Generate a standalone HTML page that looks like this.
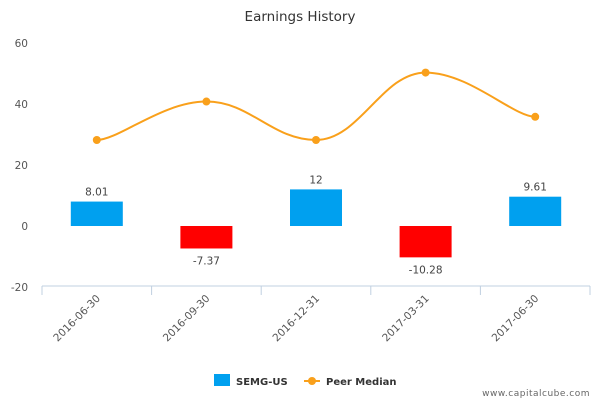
<!DOCTYPE html>
<html><head><meta charset="utf-8"><style>
body{margin:0;background:#fff;font-family:"Liberation Sans","DejaVu Sans",sans-serif}
svg text{font-family:"DejaVu Sans","Liberation Sans",sans-serif}
</style></head><body>
<svg id="c" width="600" height="400">
<text x="300" y="21" text-anchor="middle" font-size="13.5" fill="#333">Earnings History</text>
<g id="yax"></g>
<g id="xax"></g>
<g id="bars"></g>
<g id="line"></g>
<g>
<g><rect x="214" y="374" width="16" height="12" fill="#00a0ef"/><text x="236" y="385" font-size="10" font-weight="bold" fill="#333">SEMG-US</text></g>
<g><line x1="304" y1="381" x2="320" y2="381" stroke="#f9a01b" stroke-width="2"/><circle cx="312" cy="381" r="4" fill="#f9a01b"/><text x="326" y="385" font-size="10" font-weight="bold" fill="#333">Peer Median</text></g>
</g>
<text x="590" y="396" text-anchor="end" font-size="9" fill="#666" letter-spacing="0.5">www.capitalcube.com</text>
</svg>
<script>
const categories=["2016-06-30","2016-09-30","2016-12-31","2017-03-31","2017-06-30"];
const semgValues=[8.01,-7.37,12,-10.28,9.61];
const peerMedian=[28.2,40.8,28.2,50.3,35.8];
const yTicks=[-20,0,20,40,60];
const NS="http://www.w3.org/2000/svg";
const L=42,R=590,T=43,B=287,yMin=-20,yMax=60;
const y=v=>T+(yMax-v)/(yMax-yMin)*(B-T);
const bw=(R-L)/categories.length;
const xc=i=>L+bw*(i+0.5);
function mk(tag,a,p){const e=document.createElementNS(NS,tag);for(const k in a)e.setAttribute(k,a[k]);p.appendChild(e);return e;}
const yax=document.getElementById('yax');
yTicks.forEach(t=>{const e=mk('text',{x:28,y:y(t)+4,'text-anchor':'end','font-size':'10.5',fill:'#555'},yax);e.textContent=t;

});
const xax=document.getElementById('xax');
mk('line',{x1:L,y1:B-1,x2:R,y2:B-1,stroke:'#c0d0e0'},xax);
for(let i=0;i<=categories.length;i++)mk('line',{x1:L+bw*i,y1:B-1,x2:L+bw*i,y2:B+8,stroke:'#c0d0e0'},xax);
categories.forEach((c,i)=>{const x=xc(i)+4,yy=B+12;const e=mk('text',{x:x,y:yy,'text-anchor':'end','font-size':'10.5',fill:'#555',transform:`rotate(-45 ${x} ${yy})`},xax);e.textContent=c;

});
const bars=document.getElementById('bars');
semgValues.forEach((v,i)=>{const w=52,y0=y(0),yv=y(v);
const r=mk('rect',{x:xc(i)-w/2,y:Math.min(y0,yv),width:w,height:Math.abs(y0-yv),fill:v>=0?'#00a0ef':'#ff0000'},bars);


const t=mk('text',{x:xc(i),y:v>=0?yv-6:yv+16,'text-anchor':'middle','font-size':'10.5',fill:'#444'},bars);t.textContent=v;

});
const line=document.getElementById('line');
const pts=peerMedian.map((v,i)=>[xc(i),y(v)]);
let d=`M${pts[0][0]},${pts[0][1]}`;
for(let i=0;i<pts.length-1;i++){const p0=pts[Math.max(i-1,0)],p1=pts[i],p2=pts[i+1],p3=pts[Math.min(i+2,pts.length-1)];
const s=1/5;const c1=[p1[0]+(p2[0]-p0[0])*s,p1[1]+(p2[1]-p0[1])*s*(i>0?1:0)];const c2=[p2[0]-(p3[0]-p1[0])*s,p2[1]-(p3[1]-p1[1])*s*(i+2<pts.length?1:0)];
// flatten at local extrema
if(i>0&&((p1[1]-p0[1])*(p2[1]-p1[1])<=0))c1[1]=p1[1];
if(i+2<pts.length&&((p2[1]-p1[1])*(p3[1]-p2[1])<=0))c2[1]=p2[1];
d+=` C${c1[0]},${c1[1]} ${c2[0]},${c2[1]} ${p2[0]},${p2[1]}`;}
const pl=mk('path',{d:d,fill:'none',stroke:'#f9a01b','stroke-width':2},line);


pts.forEach((p,i)=>{const c=mk('circle',{cx:p[0],cy:p[1],r:4,fill:'#f9a01b'},line);

});
</script>
</body></html>
